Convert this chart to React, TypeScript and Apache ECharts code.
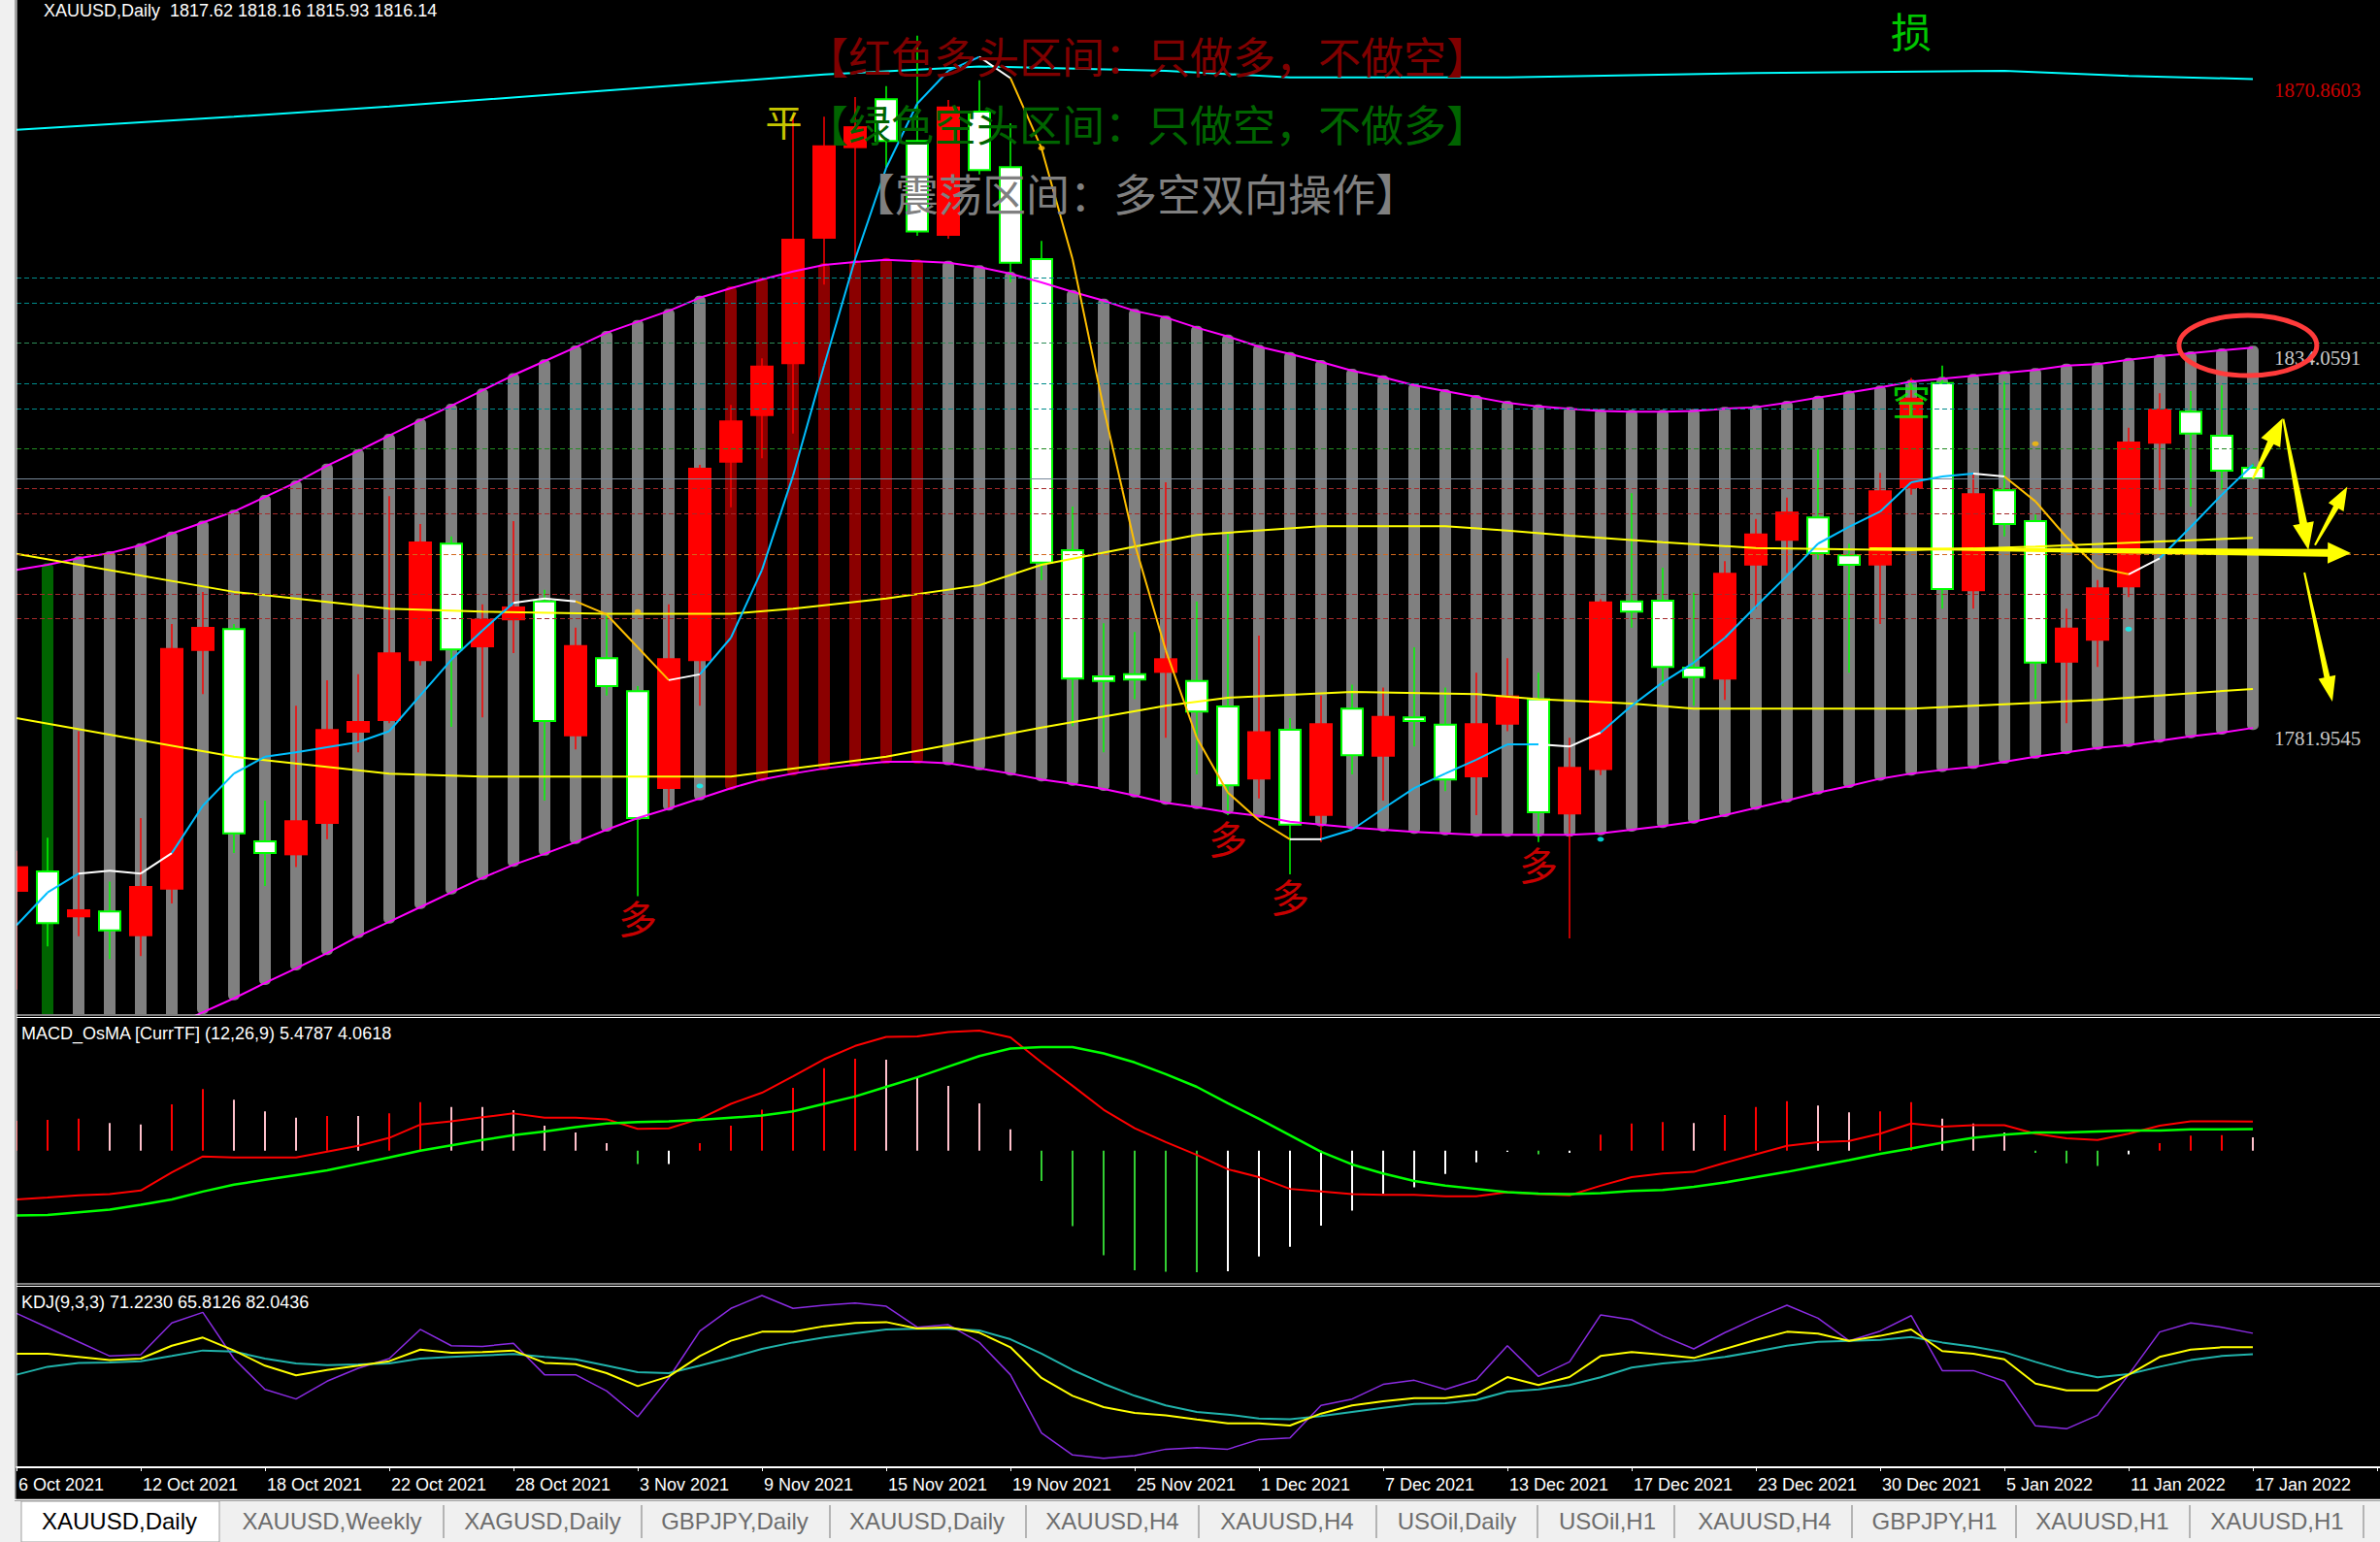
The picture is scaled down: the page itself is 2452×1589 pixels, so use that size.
import { useEffect, useRef } from "react";
import * as echarts from "echarts";

const W = 2452;
const H = 1589;
const PLOT_LEFT = 17;
const BAR_PX = 32;
const X_MAX = (W - PLOT_LEFT) / BAR_PX;

const DATES = ["6 Oct 2021","7 Oct 2021","8 Oct 2021","11 Oct 2021","12 Oct 2021","13 Oct 2021","14 Oct 2021","15 Oct 2021","18 Oct 2021","19 Oct 2021","20 Oct 2021","21 Oct 2021","22 Oct 2021","25 Oct 2021","26 Oct 2021","27 Oct 2021","28 Oct 2021","29 Oct 2021","1 Nov 2021","2 Nov 2021","3 Nov 2021","4 Nov 2021","5 Nov 2021","8 Nov 2021","9 Nov 2021","10 Nov 2021","11 Nov 2021","12 Nov 2021","15 Nov 2021","16 Nov 2021","17 Nov 2021","18 Nov 2021","19 Nov 2021","22 Nov 2021","23 Nov 2021","24 Nov 2021","25 Nov 2021","26 Nov 2021","29 Nov 2021","30 Nov 2021","1 Dec 2021","2 Dec 2021","3 Dec 2021","6 Dec 2021","7 Dec 2021","8 Dec 2021","9 Dec 2021","10 Dec 2021","13 Dec 2021","14 Dec 2021","15 Dec 2021","16 Dec 2021","17 Dec 2021","20 Dec 2021","21 Dec 2021","22 Dec 2021","23 Dec 2021","27 Dec 2021","28 Dec 2021","29 Dec 2021","30 Dec 2021","31 Dec 2021","3 Jan 2022","4 Jan 2022","5 Jan 2022","6 Jan 2022","7 Jan 2022","10 Jan 2022","11 Jan 2022","12 Jan 2022","13 Jan 2022","14 Jan 2022","17 Jan 2022"];

const OPEN = [1759.5,1762.3,1756.0,1756.8,1753.4,1759.8,1792.5,1795.5,1766.4,1764.5,1768.8,1781.3,1782.9,1791.1,1807.2,1793.0,1796.7,1799.3,1780.8,1791.5,1787.0,1773.6,1791.1,1818.3,1824.7,1831.8,1849.0,1861.4,1868.1,1862.4,1849.4,1866.4,1858.8,1846.2,1806.3,1789.0,1789.3,1789.5,1788.4,1784.9,1774.9,1781.7,1769.9,1784.6,1778.0,1783.4,1782.4,1775.2,1782.4,1785.9,1770.1,1776.2,1799.3,1799.4,1790.2,1788.6,1804.2,1807.6,1810.8,1805.6,1804.2,1814.8,1829.2,1800.7,1814.5,1810.3,1790.9,1793.9,1801.2,1820.9,1825.3,1822.0,1817.62];
const HIGH = [1765.1,1766.9,1781.5,1760.9,1769.6,1796.2,1800.6,1796.2,1772.0,1785.0,1788.5,1789.3,1813.7,1809.9,1808.2,1798.9,1810.3,1800.9,1795.7,1797.5,1787.7,1798.9,1818.0,1826.2,1832.6,1865.9,1865.7,1868.4,1869.9,1876.8,1868.0,1870.7,1864.8,1848.7,1812.3,1796.3,1795.1,1815.6,1799.3,1808.6,1794.6,1783.3,1786.4,1787.9,1787.5,1793.0,1787.5,1789.5,1791.5,1789.5,1780.6,1799.6,1814.1,1803.9,1800.5,1804.8,1810.6,1813.5,1820.1,1807.2,1816.9,1829.9,1831.6,1816.7,1829.4,1811.2,1798.3,1802.2,1823.1,1827.8,1828.1,1828.9,1818.16];
const LOW = [1746.1,1752.0,1753.4,1750.3,1750.7,1757.9,1786.6,1764.8,1760.3,1762.9,1766.7,1778.6,1782.6,1790.5,1782.1,1783.4,1792.2,1772.0,1779.0,1786.4,1758.9,1770.9,1785.0,1812.2,1818.9,1822.3,1842.7,1845.4,1858.7,1849.4,1849.0,1857.8,1843.0,1802.2,1782.2,1778.6,1785.9,1780.6,1775.6,1770.0,1772.3,1761.9,1766.3,1775.6,1772.0,1779.4,1773.3,1770.0,1781.5,1766.3,1753.1,1775.5,1795.7,1787.7,1785.0,1785.8,1798.3,1803.2,1805.0,1789.5,1796.2,1813.9,1798.3,1798.3,1808.2,1785.9,1782.6,1790.3,1799.9,1814.5,1812.3,1814.5,1815.93];
const CLOSE = [1763.0,1755.2,1757.1,1754.2,1760.3,1792.9,1795.8,1767.5,1764.8,1769.3,1781.8,1782.9,1792.3,1807.5,1792.7,1796.9,1798.6,1782.9,1793.3,1787.7,1769.6,1791.5,1817.6,1824.1,1831.6,1849.0,1861.8,1864.4,1862.4,1850.0,1867.1,1858.4,1845.7,1804.6,1788.7,1788.4,1788.6,1791.5,1784.2,1774.1,1781.5,1768.7,1782.6,1778.2,1783.6,1782.9,1774.9,1782.6,1786.4,1770.4,1776.6,1799.3,1797.9,1790.3,1788.9,1803.2,1808.6,1811.6,1805.9,1804.3,1814.5,1827.2,1801.0,1814.1,1809.9,1790.9,1795.7,1801.2,1821.2,1825.7,1822.3,1817.2,1816.14];

const BB_UPPER = [1803.6,1804.3,1805.2,1805.9,1807.0,1808.6,1810.1,1811.6,1813.6,1815.6,1817.9,1819.9,1822.0,1824.1,1826.1,1828.2,1830.3,1832.2,1834.1,1836.1,1837.6,1839.1,1840.9,1842.2,1843.4,1844.5,1845.4,1845.8,1846.1,1845.9,1845.7,1845.1,1844.2,1843.0,1841.7,1840.5,1839.1,1838.2,1836.8,1835.6,1834.2,1833.2,1832.1,1830.9,1830.0,1828.9,1828.1,1827.3,1826.5,1826.0,1825.7,1825.4,1825.3,1825.3,1825.4,1825.7,1825.9,1826.5,1827.2,1827.9,1828.6,1829.4,1829.8,1830.2,1830.6,1831.0,1831.6,1831.8,1832.4,1832.9,1833.3,1833.7,1834.06];
const BB_LOWER = [1731.0,1733.0,1735.0,1737.0,1739.0,1741.0,1743.0,1744.9,1747.0,1749.0,1751.1,1753.4,1755.4,1757.4,1759.4,1761.4,1763.2,1764.7,1766.3,1768.0,1769.6,1770.9,1772.3,1773.7,1774.9,1775.7,1776.4,1776.9,1777.3,1777.3,1777.1,1776.4,1775.7,1774.9,1774.3,1773.6,1772.7,1771.7,1771.1,1770.4,1769.9,1769.1,1768.7,1768.3,1768.0,1767.7,1767.5,1767.3,1767.3,1767.3,1767.3,1767.5,1768.0,1768.5,1769.1,1770.0,1771.0,1772.0,1773.1,1774.0,1775.0,1775.7,1776.2,1776.6,1777.3,1778.0,1778.6,1779.2,1779.6,1780.2,1780.8,1781.3,1781.95];
// zone of each bar: "-" none, "b" bear (green), "r" range (gray), "B" bull (dark red)
const ZONE = ("-" + "b" + "rrrrrrrrrr" + "rrrrrrrrrr" + "r" + "BBBBBBB" + "rrrrrrrrrr" + "rrrrrrrrrr" + "rrrrrrrrrr" + "rrrrrrrrrr" + "rrr").split("");

const FAST_MA = [1754.9,1759.4,1762.0,1762.4,1762.0,1764.8,1771.3,1775.7,1778.0,1778.6,1779.3,1780.0,1781.5,1786.4,1791.3,1795.3,1799.1,1799.7,1799.3,1797.5,1793.0,1788.5,1789.3,1794.3,1803.6,1816.5,1831.6,1846.2,1858.7,1867.5,1872.0,1873.9,1871.0,1861.4,1846.2,1825.8,1807.2,1792.6,1780.6,1773.1,1769.3,1766.7,1766.7,1768.0,1770.9,1773.7,1775.7,1777.6,1779.7,1779.7,1779.4,1781.3,1785.0,1788.2,1790.9,1794.3,1798.6,1802.8,1807.2,1809.5,1811.6,1815.6,1816.4,1816.8,1816.4,1813.0,1808.1,1803.9,1803.0,1805.2,1809.5,1813.9,1818.0];
// trend of each MA segment k -> k+1: u rising, f flat, d falling
const FAST_MA_TREND = ["u","u","f","f","f","u","u","u","u","u","u","u","u","u","u","u","f","f","d","d","d","f","u","u","u","u","u","u","u","u","u","f","d","d","d","d","d","d","d","d","d","f","u","u","u","u","u","u","u","f","f","u","u","u","u","u","u","u","u","u","u","u","u","f","d","d","d","d","f","u","u","u"];

const CYAN_PTS = [[0,1863.9],[7,1865.7],[12,1867.1],[19,1869.3],[26,1871.5],[31,1872.6],[37,1872.0],[41,1871.1],[48,1871.1],[56,1871.7],[64,1872.0],[68,1871.3],[72,1870.86]];
const MA_UPPER_PTS = [[0,1805.8],[7,1800.6],[12,1798.3],[15,1797.9],[19,1797.6],[23,1797.6],[25,1798.3],[28,1799.7],[31,1801.5],[33,1804.3],[36,1806.8],[38,1808.4],[42,1809.6],[46,1809.6],[48,1809.0],[50,1808.3],[53,1807.4],[56,1806.6],[61,1806.3],[65,1806.8],[69,1807.5],[72,1808.0]];
const MA_LOWER_PTS = [[0,1783.3],[7,1778.0],[12,1775.7],[15,1775.3],[23,1775.3],[28,1778.0],[33,1782.0],[37,1785.0],[39,1786.1],[43,1786.9],[47,1786.6],[49,1785.9],[52,1785.3],[54,1784.6],[61,1784.6],[63,1785.0],[67,1785.8],[72,1787.3]];

const GOLD_DOTS = [[20,1797.9],[33,1861.4],[65,1820.9]];
const CYAN_DOTS = [[22,1774.0],[51,1766.7],[68,1795.5]];

const LEVELS = [1843.67,1840.21,1834.76,1829.17,1825.72,1820.27,1814.81,1811.36,1805.77,1800.32,1796.99];
const LEVEL_COLORS = ["#008b8b","#008b8b","#2e8b57","#008b8b","#008b8b","#228b22","#a52a2a","#a52a2a","#d2691e","#a52a2a","#a52a2a"];
const BID = 1816.14;

const SIGNAL_TEXT = ["平","损","空","多","多","多","多"];
const SIGNAL_X = [24.7,61,61,20,39,41,49];
const SIGNAL_Y = [1865.3,1877.6,1827.0,1756.0,1766.9,1759.0,1763.3];
const SIGNAL_COLORS = ["#ffff00","#00ff00","#00ff00","#ff0000","#ff0000","#ff0000","#ff0000"];

const VALUE_LABELS = [1870.8603,1834.0591,1781.9545];
const VALUE_LABEL_COLORS = ["#ff0000","#ffffff","#ffffff"];

const MACD_HIST = [5.6,5.8,6.0,5.2,4.9,8.7,11.6,9.6,7.4,6.2,6.5,6.5,7.0,9.1,8.2,8.2,7.6,4.7,3.4,1.4,-2.5,-2.5,1.4,4.7,7.7,11.8,15.5,17.3,17.1,13.7,12.2,8.9,4.0,-5.7,-14.2,-19.7,-22.5,-22.8,-22.9,-22.7,-19.9,-18.1,-14.1,-11.3,-8.1,-6.9,-4.4,-2.2,-0.24,-0.7,-0.4,3.0,5.1,5.4,5.2,6.7,8.2,9.3,8.5,7.2,7.4,9.1,6.0,5.1,3.4,-0.4,-2.4,-2.9,-0.7,1.4,2.8,2.9,2.5];
const MACD_MAIN = [-9.19,-8.82,-8.4,-8.2,-7.5,-4.1,-1.1,-1.3,-1.3,-1.3,-0.2,0.9,2.4,4.9,5.5,6.3,7.0,6.2,6.2,5.9,4.1,4.2,6.0,8.8,10.9,14.0,17.2,19.7,21.4,21.5,22.3,22.6,21.3,16.6,12.2,7.7,4.2,1.6,-0.8,-3.5,-5.0,-7.2,-7.7,-8.2,-8.3,-8.3,-8.6,-8.6,-7.8,-8.2,-8.4,-6.6,-5.0,-4.3,-4.0,-2.3,-0.7,0.9,1.6,1.8,3.2,5.1,4.5,4.8,4.8,3.2,2.3,2.0,3.2,4.7,5.5,5.5,5.4787];
const MACD_SIGNAL = [-12.2,-12.1,-11.6,-11.1,-10.2,-9.2,-7.7,-6.4,-5.5,-4.6,-3.7,-2.5,-1.3,0.0,1.0,2.0,2.9,3.6,4.4,5.1,5.4,5.5,5.8,6.2,6.6,7.4,8.8,10.2,12.0,13.8,15.8,17.8,19.2,19.5,19.5,18.3,16.6,14.4,12.0,8.9,6.0,2.9,-0.2,-2.6,-4.3,-5.7,-6.6,-7.2,-7.8,-8.1,-8.2,-8.0,-7.6,-7.4,-6.8,-6.0,-5.0,-4.0,-2.9,-1.8,-0.6,0.4,1.5,2.4,3.0,3.4,3.4,3.6,3.8,3.8,4.0,4.0,4.0618];

const KDJ_K = [66.2,66.2,63.7,61.2,62.4,72.4,78.7,68.7,56.9,49.4,53.6,56.9,60.4,69.4,66.9,67.4,68.7,59.1,58.1,51.1,41.1,48.6,64.4,76.2,83.2,83.2,87.5,90.0,90.7,85.7,86.7,82.5,71.2,47.4,33.6,24.8,20.3,18.5,15.3,12.3,12.3,10.5,19.8,26.1,29.3,31.8,31.8,34.8,48.1,41.9,48.1,64.4,67.4,65.4,62.9,69.9,76.9,83.2,81.7,76.2,80.0,85.0,68.2,66.2,61.9,43.1,37.8,37.8,49.9,63.7,69.4,71.2,71.223];
const KDJ_D = [49.9,56.1,59.1,59.4,60.4,64.4,68.7,67.9,62.4,58.6,57.4,57.9,58.6,62.4,63.7,64.9,65.9,63.7,61.9,56.9,51.9,51.1,56.9,63.2,69.9,74.9,78.7,82.0,85.0,85.5,85.5,84.2,77.4,66.2,53.6,42.9,33.6,26.1,21.1,19.0,16.0,15.5,17.8,21.1,24.3,27.3,27.8,30.3,36.8,38.6,41.9,47.9,55.4,58.6,60.7,63.7,67.9,72.4,75.4,76.2,76.9,79.2,74.9,71.7,67.4,59.9,52.9,47.9,50.4,56.1,61.2,64.4,65.8126];
const KDJ_J = [97.5,86.5,75.4,64.4,65.4,90.0,98.2,62.4,38.6,31.1,44.9,54.9,62.4,85.0,72.4,71.9,74.2,49.9,49.9,37.3,17.3,47.4,83.7,101.3,111.3,101.3,103.8,105.5,103.0,86.7,88.7,74.9,49.9,4.8,-12.3,-14.8,-12.8,-7.8,-6.5,-7.8,-0.3,1.0,26.1,31.1,42.4,45.6,38.6,46.1,72.4,48.6,59.9,96.2,92.5,80.0,69.9,82.5,93.7,103.8,93.7,76.2,83.7,95.7,53.1,53.1,44.9,10.3,8.0,18.5,49.9,83.0,90.0,86.7,82.0436];

const HEADER = "XAUUSD,Daily\u00a0\u00a01817.62 1818.16 1815.93 1816.14";
const MACD_TITLE = "MACD_OsMA [CurrTF] (12,26,9) 5.4787 4.0618";
const KDJ_TITLE = "KDJ(9,3,3) 71.2230 65.8126 82.0436";
const ZONE_TEXTS = ["【红色多头区间：只做多，不做空】","【绿色空头区间：只做空，不做多】","【震荡区间：多空双向操作】"];
const TABS = ["XAUUSD,Daily","XAUUSD,Weekly","XAGUSD,Daily","GBPJPY,Daily","XAUUSD,Daily","XAUUSD,H4","XAUUSD,H4","USOil,Daily","USOil,H1","XAUUSD,H4","GBPJPY,H1","XAUUSD,H1","XAUUSD,H1"];

// annotation anchors in data coordinates (bar index, price)
const ARROWS = [
  { from: [59.66, 1806.57], to: [75.16, 1805.9] },
  { from: [72.0, 1816.1], to: [72.96, 1824.39] },
  { from: [72.98, 1824.29], to: [73.79, 1806.34] },
  { from: [74.0, 1807.0], to: [75.04, 1815.0] },
  { from: [73.66, 1803.24], to: [74.56, 1785.56] },
];
const RING_CENTER = [71.84, 1834.36];

// ---------- styling / layout ----------
const FONT_UI = '"Liberation Sans", Arial, sans-serif';
const FONT_CJK = '"Noto Sans CJK SC", "Noto Sans CJK TC", sans-serif';
const FONT_SERIF = '"Liberation Serif", "Times New Roman", serif';
const MAIN = { top: 0, height: 1045, min: 1742.74, max: 1881.7 };
const MACDP = { top: 1049, height: 273, min: -24.89, max: 24.963 };
const KDJP = { top: 1326, height: 186, min: -21.8, max: 118.05 };
const ZONE_COLORS: Record<string, string> = { b: "#006400", r: "#808080", B: "#8b0000" };
const TREND_COLORS: Record<string, string> = { u: "#00bfff", f: "#ffffff", d: "#ffbf00" };
const ARROW_SIZES = [
  { tail: 2, shaft: 8, head: 22, headL: 24 },
  { tail: 2, shaft: 7, head: 22, headL: 28 },
  { tail: 2, shaft: 8, head: 22, headL: 28 },
  { tail: 2, shaft: 6, head: 18, headL: 24 },
  { tail: 2, shaft: 6, head: 18, headL: 26 },
];
const TAB_CENTERS = [123, 342, 559, 757, 955, 1146, 1326, 1501, 1656, 1818, 1993, 2166, 2346];
const TAB_SEPS = [457, 661, 855, 1057, 1235, 1418, 1584, 1725, 1908, 2077, 2256, 2435];

function histColor(i: number) {
  const v = MACD_HIST[i];
  const prev = i > 0 ? MACD_HIST[i - 1] : v - 1;
  if (v >= 0) return v > prev ? "#ff0000" : "#ffc0cb";
  return v < prev ? "#32cd32" : "#ffffff";
}

function buildOption(): any {
  const idx = OPEN.map((_, i) => i);
  const candleData = idx.map((i) => [i, OPEN[i], CLOSE[i], LOW[i], HIGH[i]]);
  const bandData = idx.filter((i) => ZONE[i] !== "-").map((i) => [i, BB_LOWER[i], BB_UPPER[i]]);
  const maSeg = FAST_MA_TREND.map((t, k) => [k, FAST_MA[k], FAST_MA[k + 1]]);
  const xHidden = (g: number) => ({ type: "value", gridIndex: g, min: 0, max: X_MAX, show: false, splitLine: { show: false } });
  const yHidden = (g: number, p: any) => ({ type: "value", gridIndex: g, min: p.min, max: p.max, show: false, splitLine: { show: false } });
  const lineS = (data: any, color: string, width: number, z: number, g = 0, extra: any = {}) => ({
    type: "line", xAxisIndex: g, yAxisIndex: g, data, symbol: "none", showSymbol: false, z,
    lineStyle: { color, width }, itemStyle: { color }, silent: true, ...extra,
  });

  return {
    animation: false,
    backgroundColor: "#000000",
    grid: [
      { left: PLOT_LEFT, right: 0, top: MAIN.top, height: MAIN.height },
      { left: PLOT_LEFT, right: 0, top: MACDP.top, height: MACDP.height },
      { left: PLOT_LEFT, right: 0, top: KDJP.top, height: KDJP.height },
    ],
    xAxis: [
      xHidden(0),
      xHidden(1),
      {
        type: "value", gridIndex: 2, min: 0, max: X_MAX, interval: 4,
        splitLine: { show: false },
        axisLine: { show: true, onZero: false, lineStyle: { color: "#ffffff", width: 2 } },
        axisTick: { show: true, length: 4, lineStyle: { color: "#ffffff", width: 1 } },
        axisLabel: {
          show: true, color: "#ffffff", fontSize: 18, fontFamily: FONT_UI, align: "left", margin: 9,
          padding: [0, 0, 0, 2], showMaxLabel: false, showMinLabel: true,
          formatter: (v: number) => (Number.isInteger(v) && v >= 0 && v < DATES.length ? DATES[v] : ""),
        },
      },
    ],
    yAxis: [yHidden(0, MAIN), yHidden(1, MACDP), yHidden(2, KDJP)],
    series: [
      lineS(CYAN_PTS, "#00ffff", 2, 1, 0, {
        markLine: {
          silent: true, symbol: ["none", "none"], label: { show: false }, animation: false,
          data: [
            ...LEVELS.map((v, k) => ({ yAxis: v, lineStyle: { color: LEVEL_COLORS[k], type: [5, 3], width: 1 } })),
            { yAxis: BID, lineStyle: { color: "#778899", type: "solid", width: 1 } },
          ],
        },
      }),
      {
        type: "custom", xAxisIndex: 0, yAxisIndex: 0, z: 2, clip: true, silent: true,
        data: bandData,
        renderItem: (params: any, api: any) => {
          const i = api.value(0);
          const top = api.coord([i, api.value(2)]);
          const bot = api.coord([i, api.value(1)]);
          return {
            type: "rect",
            shape: { x: top[0] - 6, y: top[1] - 2, width: 12, height: bot[1] - top[1] + 4, r: 5 },
            style: { fill: ZONE_COLORS[ZONE[i]] },
          };
        },
      },
      {
        type: "custom", xAxisIndex: 0, yAxisIndex: 0, z: 3, clip: true, silent: true,
        data: candleData,
        renderItem: (params: any, api: any) => {
          const i = api.value(0);
          const o = api.value(1), c = api.value(2), l = api.value(3), h = api.value(4);
          const po = api.coord([i, o]), pc = api.coord([i, c]);
          const pl = api.coord([i, l]), ph = api.coord([i, h]);
          const x = po[0];
          const bull = c >= o;
          const top = Math.min(po[1], pc[1]);
          const bh = Math.max(Math.abs(po[1] - pc[1]), 2);
          return {
            type: "group",
            children: [
              { type: "line", shape: { x1: x, y1: ph[1], x2: x, y2: pl[1] }, style: { stroke: bull ? "#ff0000" : "#00ff00", lineWidth: 1.5 } },
              bull
                ? { type: "rect", shape: { x: x - 12, y: top, width: 24, height: bh }, style: { fill: "#ff0000" } }
                : { type: "rect", shape: { x: x - 11, y: top, width: 22, height: bh }, style: { fill: "#ffffff", stroke: "#00ff00", lineWidth: 2 } },
            ],
          };
        },
      },
      lineS(idx.map((i) => [i, BB_UPPER[i]]), "#ff00ff", 2, 4),
      lineS(idx.map((i) => [i, BB_LOWER[i]]), "#ff00ff", 2, 4),
      lineS(MA_UPPER_PTS, "#ffff00", 2, 4),
      lineS(MA_LOWER_PTS, "#ffff00", 2, 4),
      {
        type: "custom", xAxisIndex: 0, yAxisIndex: 0, z: 5, clip: true, silent: true,
        data: maSeg,
        renderItem: (params: any, api: any) => {
          const k = api.value(0);
          const p0 = api.coord([k, api.value(1)]);
          const p1 = api.coord([k + 1, api.value(2)]);
          return { type: "line", shape: { x1: p0[0], y1: p0[1], x2: p1[0], y2: p1[1] }, style: { stroke: TREND_COLORS[FAST_MA_TREND[k]], lineWidth: 2 } };
        },
      },
      { type: "scatter", xAxisIndex: 0, yAxisIndex: 0, z: 6, silent: true, data: GOLD_DOTS, symbol: "circle", symbolSize: [7, 5], itemStyle: { color: "#ffbf00" } },
      { type: "scatter", xAxisIndex: 0, yAxisIndex: 0, z: 6, silent: true, data: CYAN_DOTS, symbol: "circle", symbolSize: [7, 5], itemStyle: { color: "#00ffff" } },
      {
        type: "scatter", xAxisIndex: 0, yAxisIndex: 0, z: 7, silent: true, symbolSize: 0,
        data: SIGNAL_TEXT.map((t, k) => ({
          value: [SIGNAL_X[k], SIGNAL_Y[k]], name: t,
          label: { color: SIGNAL_COLORS[k], fontSize: t === "损" ? 42 : t === "平" ? 38 : 40 },
        })),
        label: { show: true, position: "inside", formatter: "{b}", fontFamily: FONT_CJK, fontSize: 40, lineHeight: 44 },
      },
      {
        type: "scatter", xAxisIndex: 0, yAxisIndex: 0, z: 7, silent: true, symbolSize: 0,
        data: VALUE_LABELS.map((v, k) => ({ value: [OPEN.length - 1, v], label: { color: VALUE_LABEL_COLORS[k] } })),
        label: {
          show: true, position: [22, 11], align: "left", verticalAlign: "middle",
          fontFamily: FONT_SERIF, fontSize: 21, formatter: (p: any) => p.value[1].toFixed(4),
        },
      },
      {
        type: "custom", xAxisIndex: 1, yAxisIndex: 1, z: 2, clip: true, silent: true,
        data: idx.map((i) => [i, MACD_HIST[i]]),
        renderItem: (params: any, api: any) => {
          const i = api.value(0);
          const p0 = api.coord([i, 0]);
          const p1 = api.coord([i, api.value(1)]);
          return { type: "line", shape: { x1: p0[0], y1: p0[1], x2: p1[0], y2: p1[1] }, style: { stroke: histColor(i), lineWidth: 2 } };
        },
      },
      lineS(idx.map((i) => [i, MACD_MAIN[i]]), "#ff0000", 2, 3, 1),
      lineS(idx.map((i) => [i, MACD_SIGNAL[i]]), "#00ff00", 2.5, 4, 1),
      lineS(idx.map((i) => [i, KDJ_J[i]]), "#8a2be2", 1.5, 2, 2),
      lineS(idx.map((i) => [i, KDJ_D[i]]), "#20b2aa", 2, 3, 2),
      lineS(idx.map((i) => [i, KDJ_K[i]]), "#ffff00", 2, 4, 2),
    ],
  };
}

function arrowPoly(p0: number[], p1: number[], s: any) {
  const dx = p1[0] - p0[0], dy = p1[1] - p0[1];
  const len = Math.hypot(dx, dy) || 1;
  const ux = dx / len, uy = dy / len;
  const nx = -uy, ny = ux;
  const sx = p1[0] - ux * s.headL, sy = p1[1] - uy * s.headL;
  return [
    [p0[0] + nx * s.tail / 2, p0[1] + ny * s.tail / 2],
    [sx + nx * s.shaft / 2, sy + ny * s.shaft / 2],
    [sx + nx * s.head / 2, sy + ny * s.head / 2],
    [p1[0], p1[1]],
    [sx - nx * s.head / 2, sy - ny * s.head / 2],
    [sx - nx * s.shaft / 2, sy - ny * s.shaft / 2],
    [p0[0] - nx * s.tail / 2, p0[1] - ny * s.tail / 2],
  ];
}

function buildGraphic(chart: any) {
  const px = (p: number[]) => chart.convertToPixel({ gridIndex: 0 }, p) as number[];
  const els: any[] = [];
  const Z = 50;
  // window frame at left
  els.push({ type: "rect", z: Z, shape: { x: 0, y: 0, width: 15, height: H }, style: { fill: "#f0f0f0" } });
  els.push({ type: "rect", z: Z, shape: { x: 15, y: 0, width: 1.5, height: 1546 }, style: { fill: "#a0a0a0" } });
  els.push({ type: "line", z: Z, shape: { x1: 17, y1: 0, x2: 17, y2: 1512 }, style: { stroke: "#ffffff", lineWidth: 1 } });
  // panel separators
  [1046, 1048.5, 1323, 1325.5].forEach((y) =>
    els.push({ type: "line", z: Z, shape: { x1: 17, y1: y, x2: W, y2: y }, style: { stroke: "#ffffff", lineWidth: 1 } })
  );
  // header texts
  els.push({ type: "text", z: Z, x: 45, y: 11, style: { text: HEADER, fill: "#ffffff", fontSize: 18, fontFamily: FONT_UI, align: "left", verticalAlign: "middle" } });
  els.push({ type: "text", z: Z, x: 22, y: 1065, style: { text: MACD_TITLE, fill: "#ffffff", fontSize: 18, fontFamily: FONT_UI, align: "left", verticalAlign: "middle" } });
  els.push({ type: "text", z: Z, x: 22, y: 1342, style: { text: KDJ_TITLE, fill: "#ffffff", fontSize: 18, fontFamily: FONT_UI, align: "left", verticalAlign: "middle" } });
  // zone legend texts
  const zoneFill = ["#800000", "#006400", "#808080"];
  const zoneX = [830, 830, 877];
  const zoneY = [57, 127, 198];
  const zoneSize = [44, 44, 45];
  ZONE_TEXTS.forEach((t, k) =>
    els.push({ type: "text", z: Z - 5, x: zoneX[k], y: zoneY[k], style: { text: t, fill: zoneFill[k], fontSize: zoneSize[k], fontFamily: FONT_CJK, align: "left", verticalAlign: "middle" } })
  );
  // arrows
  ARROWS.forEach((a, k) =>
    els.push({ type: "polygon", z: Z + 2, shape: { points: arrowPoly(px(a.from), px(a.to), ARROW_SIZES[k]) }, style: { fill: "#ffff00" } })
  );
  // red ring
  const c = px(RING_CENTER);
  els.push({ type: "ellipse", z: Z + 3, shape: { cx: c[0], cy: c[1], rx: 71, ry: 31 }, style: { fill: "transparent", stroke: "#ff3b3b", lineWidth: 5 } });
  // bottom tab bar
  els.push({ type: "line", z: Z, shape: { x1: 15, y1: 1545.5, x2: W, y2: 1545.5 }, style: { stroke: "#ffffff", lineWidth: 1.5 } });
  els.push({ type: "rect", z: Z, shape: { x: 0, y: 1546.5, width: W, height: H - 1546.5 }, style: { fill: "#f0f0f0" } });
  els.push({ type: "rect", z: Z + 1, shape: { x: 22, y: 1547, width: 204, height: 42 }, style: { fill: "#ffffff", stroke: "#a0a0a0", lineWidth: 1 } });
  TAB_SEPS.forEach((x) =>
    els.push({ type: "line", z: Z + 1, shape: { x1: x, y1: 1551, x2: x, y2: 1585 }, style: { stroke: "#a0a0a0", lineWidth: 1.5 } })
  );
  TABS.forEach((t, k) =>
    els.push({ type: "text", z: Z + 2, x: TAB_CENTERS[k], y: 1567, style: { text: t, fill: k === 0 ? "#000000" : "#6d6d6d", fontSize: 24, fontFamily: FONT_UI, align: "center", verticalAlign: "middle" } })
  );
  return { elements: els };
}

export default function App() {
  const ref = useRef<HTMLDivElement>(null);
  useEffect(() => {
    document.body.style.margin = "0";
    const chart = echarts.init(ref.current as HTMLDivElement, null, { renderer: "svg" });
    chart.setOption(buildOption());
    chart.setOption({ graphic: buildGraphic(chart) });
    return () => chart.dispose();
  }, []);
  return <div ref={ref} style={{ width: W, height: H, background: "#000" }} />;
}
